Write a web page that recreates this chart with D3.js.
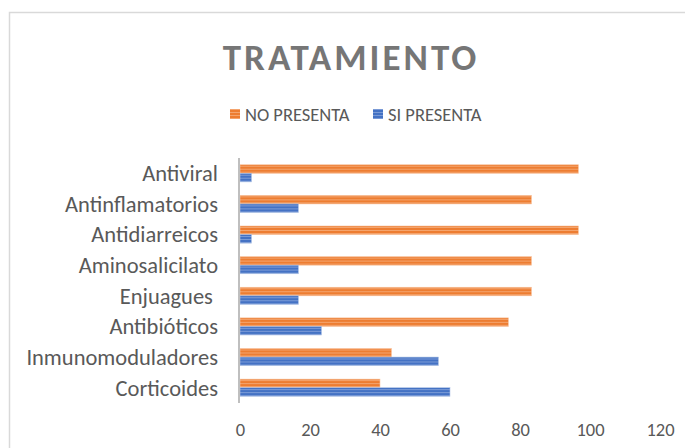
<!DOCTYPE html>
<html>
<head>
<meta charset="utf-8">
<script src="https://cdn.jsdelivr.net/npm/d3@7"></script>
<style>
  body { margin: 0; background: #fff; }
  text { font-family: Carlito, Lato, "Open Sans", sans-serif; }
</style>
</head>
<body>
<div id="chart"></div>
<script>
// categories top to bottom
const categories = ["Antiviral", "Antinflamatorios", "Antidiarreicos", "Aminosalicilato",
                    "Enjuagues ", "Antibióticos", "Inmunomoduladores", "Corticoides"];
const noPresenta = [96.7, 83.3, 96.7, 83.3, 83.3, 76.7, 43.3, 40];
const siPresenta = [3.3, 16.7, 3.3, 16.7, 16.7, 23.3, 56.7, 60];
const xTicks = [0, 20, 40, 60, 80, 100, 120];
const seriesNames = ["NO PRESENTA", "SI PRESENTA"];

let width = 685, height = 448;
let margin = { top: 158, bottom: 45, left: 240, right: 25 };

let svg = d3.select('#chart')
    .append('svg')
    .attr('width', width)
    .attr('height', height);

// stripey fills like the excel texture
let defs = svg.append('defs');
function stripes(id, base, light) {
    let p = defs.append('pattern')
        .attr('id', id)
        .attr('patternUnits', 'userSpaceOnUse')
        .attr('width', 4).attr('height', 3);
    p.append('rect').attr('width', 4).attr('height', 3).attr('fill', base);
    p.append('rect').attr('y', 1).attr('width', 4).attr('height', 1).attr('fill', light);
}
stripes('orangeStripe', '#ED7D31', '#F4A46E');
stripes('blueStripe', '#4472C4', '#7A9AD6');

// chart border
svg.append('rect')
    .attr('x', 9.5).attr('y', 12.5)
    .attr('width', 700).attr('height', 460)
    .attr('fill', 'none')
    .attr('stroke', '#d9d9d9')
    .attr('stroke-width', 1.5);

// title
svg.append('text')
    .attr('x', 351).attr('y', 70)
    .attr('text-anchor', 'middle')
    .attr('fill', '#767676')
    .style('font-size', '37px')
    .style('font-weight', 'bold')
    .style('letter-spacing', '3px')
    .text('TRATAMIENTO');

// legend
const legendX = [230, 373];
const legendFill = ['url(#orangeStripe)', 'url(#blueStripe)'];
seriesNames.forEach(function(name, i) {
    svg.append('rect')
        .attr('x', legendX[i]).attr('y', 109)
        .attr('width', 10).attr('height', 10)
        .attr('fill', legendFill[i]);
    svg.append('text')
        .attr('x', legendX[i] + 15).attr('y', 121)
        .attr('fill', '#595959')
        .style('font-size', '18.5px')
        .text(name);
});

let xScale = d3.scaleLinear()
    .domain([0, 120])
    .range([margin.left, width - margin.right]);

let yScale = d3.scaleBand()
    .domain(categories)
    .range([margin.top, height - margin.bottom])
    .paddingInner(0.44)
    .paddingOuter(0.22);

let inner = d3.scaleBand()
    .domain([0, 1])
    .range([0, yScale.bandwidth()]);

// bars
let rows = categories.map((c, i) => ({ cat: c, vals: [noPresenta[i], siPresenta[i]] }));
let groups = svg.selectAll('g.row')
    .data(rows)
    .enter()
    .append('g')
    .attr('class', 'row')
    .attr('transform', d => `translate(0, ${yScale(d.cat)})`);

groups.selectAll('rect')
    .data(d => d.vals.map((v, k) => ({ v: v, k: k })))
    .enter()
    .append('rect')
    .attr('x', xScale(0))
    .attr('y', d => inner(d.k))
    .attr('width', d => xScale(d.v) - xScale(0))
    .attr('height', inner.bandwidth())
    .attr('fill', d => legendFill[d.k])
    .attr('stroke', d => d.k === 0 ? '#F8C9A8' : '#B4C7E7')
    .attr('stroke-width', 0.6);

// category labels
svg.append('g')
    .selectAll('text')
    .data(categories)
    .enter()
    .append('text')
    .attr('x', 218)
    .attr('y', d => yScale(d) + yScale.bandwidth() / 2)
    .attr('dy', '0.35em')
    .attr('text-anchor', 'end')
    .attr('fill', '#595959')
    .style('font-size', '22.5px')
    .style('white-space', 'pre')
    .text(d => d);

// y axis line
svg.append('line')
    .attr('x1', xScale(0) - 1).attr('x2', xScale(0) - 1)
    .attr('y1', margin.top).attr('y2', height - margin.bottom)
    .attr('stroke', '#bfbfbf')
    .attr('stroke-width', 2);

// x tick labels
let xAxis = svg.append('g')
    .attr('transform', `translate(0, ${height - margin.bottom + 10})`)
    .call(d3.axisBottom(xScale).tickValues(xTicks).tickSize(0).tickPadding(10));
xAxis.select('.domain').remove();
xAxis.selectAll('text')
    .attr('fill', '#595959')
    .style('font-size', '18.5px')
    .style('font-family', 'Carlito, Lato, "Open Sans", sans-serif');
</script>
</body>
</html>
